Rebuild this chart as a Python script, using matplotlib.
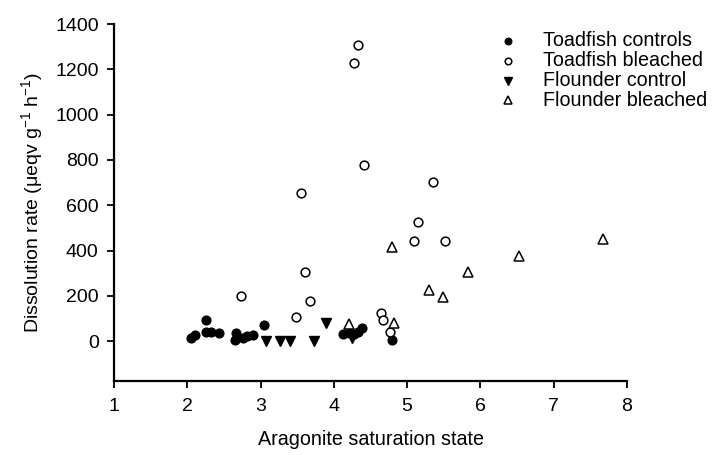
import matplotlib
matplotlib.use("Agg")
import matplotlib.pyplot as plt
from matplotlib.lines import Line2D

plt.rcParams['font.family'] = ['Liberation Sans', 'DejaVu Sans']
plt.rcParams['mathtext.default'] = 'regular'

# Toadfish controls
tc_x = [2.05, 2.10, 2.255, 2.255, 2.33, 2.43, 2.65, 2.67, 2.76, 2.81, 2.89, 3.05,
        4.13, 4.20, 4.27, 4.33, 4.39, 4.79]
tc_y = [12, 29, 93, 41, 41, 38, 4, 34, 15, 22, 29, 73,
        31, 34, 31, 41, 59, 5]
# Toadfish bleached
tb_x = [2.73, 3.49, 3.55, 3.60, 3.67, 4.28, 4.33, 4.41, 4.64, 4.67, 4.77,
        5.10, 5.15, 5.35, 5.52]
tb_y = [200, 105, 654, 303, 175, 1228, 1306, 779, 123, 92, 41,
        442, 526, 703, 442]
# Flounder control
fc_x = [3.08, 3.26, 3.40, 3.73, 3.89, 4.25]
fc_y = [0, 0, 1, 1, 78, 12]
# Flounder bleached
fb_x = [4.20, 4.80, 4.82, 5.30, 5.49, 5.83, 6.53, 7.67]
fb_y = [75, 416, 82, 225, 193, 306, 376, 453]

series_labels = ['Toadfish controls', 'Toadfish bleached', 'Flounder control', 'Flounder bleached']
x_ticks = [1, 2, 3, 4, 5, 6, 7, 8]
y_ticks = [0, 200, 400, 600, 800, 1000, 1200, 1400]

W, H = 715, 455
fig = plt.figure(figsize=(W / 100, H / 100), dpi=100)
ax = fig.add_axes([114 / W, (H - 381) / H, (627 - 114) / W, (381 - 24) / H])

ms = 6.3
styles = [
    dict(marker='o', ms=ms, mfc='black', mec='black', mew=1.0),
    dict(marker='o', ms=ms, mfc='white', mec='black', mew=1.1),
    dict(marker='v', ms=ms + 0.8, mfc='black', mec='black', mew=1.0),
    dict(marker='^', ms=ms + 0.8, mfc='white', mec='black', mew=1.1),
]
for (xs, ys), st, lab in zip([(tc_x, tc_y), (tb_x, tb_y), (fc_x, fc_y), (fb_x, fb_y)],
                             styles, series_labels):
    ax.plot(xs, ys, ls='none', label=lab, **st)

ax.set_xlim(1, 8)
ax.set_ylim(-176, 1400)
ax.set_xticks(x_ticks)
ax.set_yticks(y_ticks)
ax.tick_params(direction='out', length=5, width=1.3, labelsize=14, colors='black', pad=6)
ax.tick_params(axis='x', pad=7)
for s in ['top', 'right']:
    ax.spines[s].set_visible(False)
for s in ['left', 'bottom']:
    ax.spines[s].set_linewidth(1.6)

ax.set_xlabel('Aragonite saturation state', fontsize=14.2, labelpad=11)
ax.set_ylabel('Dissolution rate (μeqv g$^{-1}$ h$^{-1}$)', fontsize=14, labelpad=7)

# legend drawn as marker + text rows in figure pixels
row_y = [41, 61, 81, 100]
for st, lab, yy in zip(styles, series_labels, row_y):
    st2 = dict(st)
    st2['ms'] = st['ms'] * 0.75
    fig.add_artist(Line2D([508 / W], [1 - yy / H], transform=fig.transFigure, ls='none', **st2))
    fig.text(543 / W, 1 - yy / H, lab, fontsize=14.2, va='center', ha='left')

fig.savefig('out.png', dpi=100)
